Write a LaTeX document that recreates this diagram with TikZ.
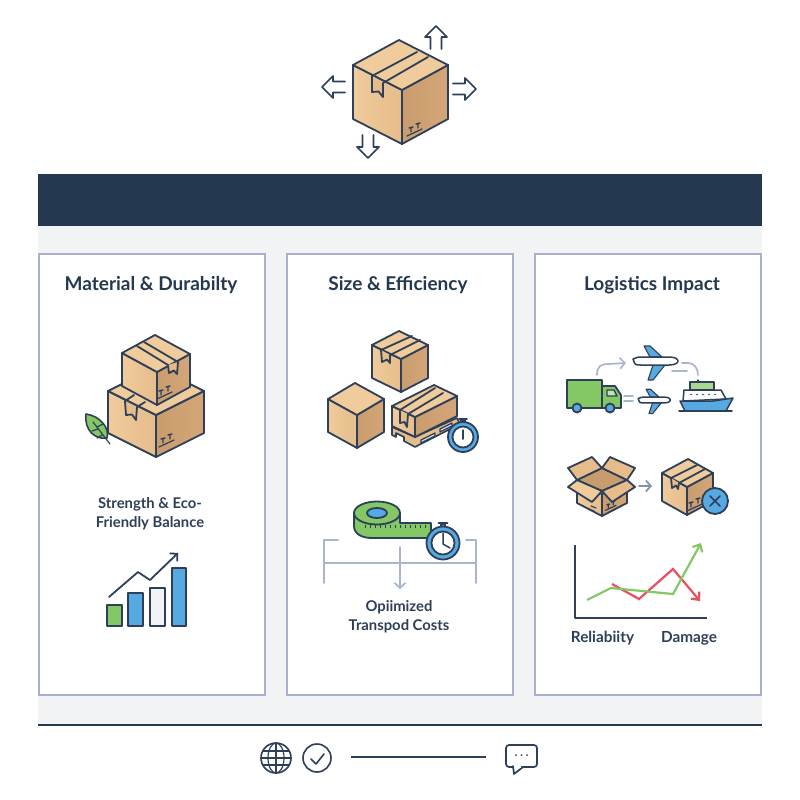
\documentclass[tikz,border=0pt]{standalone}
\usepackage{fontspec}
\setmainfont{Lato}
\usetikzlibrary{positioning,calc,arrows.meta}

\definecolor{navy}{HTML}{24384F}
\definecolor{inkblue}{HTML}{2E4059}
\definecolor{panelline}{HTML}{A9AFCF}
\definecolor{pagegray}{HTML}{F1F3F4}
\definecolor{boxlight}{HTML}{F0CB9C}
\definecolor{boxmid}{HTML}{E6BC8A}
\definecolor{boxdark}{HTML}{C99C6E}
\definecolor{boxside}{HTML}{D4A677}
\definecolor{leafgreen}{HTML}{84C765}
\definecolor{skyblue}{HTML}{57A9E2}
\definecolor{softblue}{HTML}{A9B5CC}
\definecolor{alertred}{HTML}{E8505B}

\tikzset{
    ink/.style={draw=inkblue,line width=1.8pt,line join=round,line cap=round},
    thinink/.style={draw=inkblue,line width=1.2pt,line join=round,line cap=round},
    panelbox/.style={draw=panelline,line width=1.6pt,fill=white},
    paneltitle/.style={text=navy,font=\fontsize{19}{23}\selectfont\bfseries},
    caption/.style={text=inkblue,font=\fontsize{14.8}{19}\selectfont\bfseries,align=center},
    chartlabel/.style={text=inkblue,font=\fontsize{15.3}{19}\selectfont\bfseries},
    softline/.style={draw=softblue,line width=1.7pt,line cap=round,line join=round},
    softarrow/.style={softline,-{Straight Barb[length=5pt,width=11pt]}},
    plot/.style={line width=2.2pt,line join=miter},
}

% box from its front, left and right top corners and its height
\newcommand{\isobox}[4]{
    \coordinate (F) at #1;
    \coordinate (L) at #2;
    \coordinate (R) at #3;
    \coordinate (B) at ($(L)+(R)-(F)$);
    \coordinate (h) at (0,#4);
    \draw[ink,left color=boxlight,right color=boxmid] (F) -- (L) -- ($(L)+(h)$) -- ($(F)+(h)$) -- cycle;
    \draw[ink,left color=boxdark,right color=boxside] (F) -- (R) -- ($(R)+(h)$) -- ($(F)+(h)$) -- cycle;
    \draw[ink,fill=boxlight] (F) -- (L) -- (B) -- (R) -- cycle;
}
% tape: two strips and the flap that hangs from them
\newcommand{\boxtape}[6]{
    \draw[ink] #1 -- #2;
    \draw[ink] #3 -- #4;
    \draw[ink,fill=boxmid] #1 -- #5 -- ($#5!0.5!#6+(1,-3)$) -- #6 -- #3;
}
\newcommand{\fragilemark}[2]{
    \begin{scope}[shift={(#1,#2)}]
        \draw[thinink] (-8,5) -- (7,-2);
        \draw[thinink,line width=1.4pt] (-4,-3) -- (-4,1) (-6,-3) -- (-2,-4);
        \draw[thinink,line width=1.4pt] (3,-7) -- (3,-3) (1,-7) -- (5,-8);
    \end{scope}
}
\newcommand{\stopwatch}[3]{
    \begin{scope}[shift={(#1,#2)},scale=#3]
        \draw[ink,fill=skyblue] (-2,-17) rectangle (2,-14);
        \draw[ink] (-4,-18) -- (4,-18);
        \draw[ink,fill=skyblue] (0,0) circle (15);
        \draw[ink,fill=white] (0,0) circle (10.5);
    \end{scope}
}
\newcommand{\blockarrow}[3]{
    \begin{scope}[shift={(#1,#2)},rotate=#3]
        \draw[ink,line width=1.7pt] (-12,-5.5) -- (0,-5.5) -- (0,-11) -- (11,0) -- (0,11) -- (0,5.5) -- (-12,5.5);
    \end{scope}
}
\newcommand{\planeicon}[3]{
    \begin{scope}[shift={(#1,#2)},scale=#3]
        \draw[ink,line width=1.1pt,fill=skyblue] (-11,-15) -- (-5,-15) -- (7,-4) -- (-5,-4) -- cycle;
        \draw[ink,line width=1.1pt,fill=skyblue] (-7,19) -- (-2,19) -- (10,4) -- (-2,4) -- cycle;
        \draw[ink,line width=1.5pt,fill=white] (-22,-2) .. controls (-18,-4) .. (-8,-4) -- (14,-4) .. controls (20,-4) and (23,-2) .. (23,0) .. controls (23,2) and (20,4) .. (14,4) -- (-14,4) .. controls (-20,4) .. (-22,-2) -- cycle;
    \end{scope}
}

\begin{document}
\begin{tikzpicture}[x=1pt,y=-1pt]
    \useasboundingbox (0,0) rectangle (800,800);
    \fill[white] (0,0) rectangle (800,800);

    % Page frame
    \fill[pagegray] (38,226) rectangle (762,725);
    \fill[navy] (38,174) rectangle (762,226);
    \draw[navy,line width=2pt] (38,725) -- (762,725);
    \draw[panelbox] (39,254) rectangle (265,695);
    \draw[panelbox] (287,254) rectangle (513,695);
    \draw[panelbox] (535,254) rectangle (761,695);
    \node[paneltitle] (materialtitle) at (151,285) {Material \& Durabilty};
    \node[paneltitle] (sizetitle) at (398,285) {Size \& Efficiency};
    \node[paneltitle] (logisticstitle) at (652,285) {Logistics Impact};

    % Top box
    \isobox{(402,90)}{(353,65)}{(448,65)}{54}
    \boxtape{(372,76)}{(417,52)}{(383,83)}{(428,57)}{(372,92)}{(383,97)}
    \fragilemark{415}{131}
    \blockarrow{436}{37}{90}
    \blockarrow{333}{87}{180}
    \blockarrow{465}{89}{0}
    \blockarrow{368}{147}{-90}

    % Material panel
    \draw[ink,line width=1.6pt,fill=leafgreen] (86,414) .. controls (100,416) and (110,428) .. (107,438) .. controls (95,440) and (84,430) .. (86,414) -- cycle;
    \draw[thinink] (93,422) -- (110,444) (97,427) -- (103,424) (98,429) -- (92,431) (102,435) -- (97,438);
    \isobox{(156,415)}{(108,391)}{(204,391)}{42}
    \isobox{(157,372)}{(122,353)}{(190,354)}{33}
    \boxtape{(168,365)}{(137,346)}{(178,362)}{(144,342)}{(169,373)}{(177,374)}
    \boxtape{(125,401)}{(134,395)}{(137,407)}{(145,402)}{(126,415)}{(136,420)}
    \fragilemark{165}{394}
    \fragilemark{167}{442}
    \node[caption] (strengthtext) at (150,513.5) {Strength \& Eco-\\Friendly Balance};

    \draw[ink,fill=leafgreen] (107,605) rectangle (122,626);
    \draw[ink,fill=skyblue] (128,593) rectangle (143,626);
    \draw[ink,fill=pagegray] (150,588) rectangle (165,626);
    \draw[ink,fill=skyblue] (172,568) rectangle (186,626);
    \coordinate (trendstart) at (109,597);
    \coordinate (trendend) at (178,553);
    \draw[ink,-{Straight Barb[length=5pt,width=11pt]}] (trendstart) -- (138,572) -- (150,580) -- (trendend);

    % Size panel
    \isobox{(401,359)}{(372,345)}{(428,345)}{33}
    \boxtape{(381,350)}{(412,336)}{(390,355)}{(420,340)}{(382,362)}{(390,363)}
    \isobox{(357,415)}{(328,399)}{(384,399)}{33}
    % pallet under the long box
    \draw[ink,line width=1.6pt,fill=boxmid] (392,427) -- (392,435) -- (396,437) -- (396,433) -- (404,437) -- (404,441) -- (415,447) -- (460,424) -- (457,418) -- (415,437) -- cycle;
    \draw[thinink,fill=softblue!50] (421,440) -- (435,433) -- (435,436) -- (421,443) -- cycle;
    \draw[thinink,fill=softblue!50] (440,429) -- (452,423) -- (452,426) -- (440,432) -- cycle;
    \isobox{(415,417)}{(392,406)}{(457,396)}{20}
    \boxtape{(400,410)}{(435,388)}{(408,414)}{(443,393)}{(400,423)}{(407,427)}
    \stopwatch{463}{437}{1}
    \draw[ink,line width=1.5pt] (463,430) -- (463,439);

    % Measuring tape
    \draw[softline] (338,540) -- (324,540) -- (324,583);
    \draw[softline] (466,540) -- (476,540) -- (476,583);
    \draw[softline] (324,563) -- (476,563);
    \coordinate (spanmid) at (400,547);
    \coordinate (spanend) at (400,589);
    \draw[softarrow] (spanmid) -- (spanend);
    \draw[ink,fill=leafgreen] (354,513) -- (354,526) .. controls (354,534) and (362,538) .. (372,538) -- (431,538) -- (431,523) -- (400,523) -- (400,513) -- cycle;
    \draw[ink,fill=leafgreen] (377,513) ellipse [x radius=23,y radius=11.5];
    \draw[ink,fill=skyblue] (377,513) ellipse [x radius=10,y radius=5];
    \foreach \tick in {365,370,...,425}
        \draw[inkblue,line width=0.9pt] (\tick,524.5) -- (\tick,528);
    \stopwatch{443}{543}{1.1}
    \draw[ink,line width=1.5pt] (443,533) -- (443,544) -- (450,548);
    \node[caption] (coststext) at (399,617) {Opiimized\\Transpod Costs};

    % Logistics panel
    \draw[ink,fill=leafgreen] (567,380) rectangle (602,408);
    \draw[ink,fill=leafgreen] (602,386) -- (615,386) -- (621,395) -- (621,408) -- (602,408) -- cycle;
    \draw[ink,line width=1.4pt,fill=leafgreen!50!white] (607,390) -- (614,390) -- (617,396) -- (607,396) -- cycle;
    \draw[ink,fill=skyblue] (577,408) circle (4.5);
    \draw[ink,fill=skyblue] (610,408) circle (4.5);
    \coordinate (truckout) at (597,375);
    \coordinate (planein) at (626,363);
    \draw[softarrow] (truckout) .. controls (597,366) and (601,364) .. (608,364) -- (planein);
    \planeicon{655}{361}{1}
    \coordinate (planeout) at (682,363);
    \coordinate (shipin) at (698,375);
    \draw[softline] (planeout) -- (688,363) .. controls (694,363) and (698,368) .. (shipin);
    \draw[softline] (672,371) -- (687,371);
    \draw[softline] (624,396) -- (633,396) (624,401) -- (633,401);
    \planeicon{654}{400}{0.72}

    \draw[ink,line width=1.5pt,fill=leafgreen!70!white] (690,382) rectangle (714,390);
    \draw[ink,line width=1.5pt] (698,382) -- (698,380);
    \draw[ink,line width=1.5pt,fill=white] (683,401) -- (684,390) -- (721,390) -- (726,399) -- cycle;
    \foreach \dot in {691,697,...,715}
        \fill[inkblue] (\dot,394.5) circle (0.9);
    \draw[ink,line width=1.5pt,fill=skyblue] (680,401) -- (713,401) -- (733,398) -- (726,411) -- (685,411) -- cycle;
    \draw[ink,line width=1.5pt] (679,411) -- (732,411);

    % Open box
    \draw[ink,fill=boxdark] (602,468) -- (577,480) -- (602,491) -- (627,480) -- cycle;
    \draw[ink,fill=boxmid] (602,468) -- (577,480) -- (568,468) -- (592,457) -- cycle;
    \draw[ink,fill=boxmid] (602,468) -- (627,480) -- (635,468) -- (610,457) -- cycle;
    \draw[ink,left color=boxlight,right color=boxmid] (577,483) -- (602,494) -- (602,516) -- (577,503) -- cycle;
    \draw[ink,left color=boxdark,right color=boxside] (627,483) -- (602,494) -- (602,516) -- (627,503) -- cycle;
    \draw[ink,fill=boxlight] (577,480) -- (602,491) -- (592,502) -- (568,487) -- cycle;
    \draw[ink,fill=boxmid] (627,480) -- (602,491) -- (612,502) -- (635,487) -- cycle;
    \begin{scope}[scale=0.7]
        \fragilemark{873}{724}
    \end{scope}
    \draw[thinink] (591,506) -- (596,508) (589,509) -- (594,511);
    \coordinate (openout) at (639,486);
    \coordinate (closedin) at (652,486);
    \draw[softarrow,draw=softblue!70!inkblue] (openout) -- (closedin);
    \isobox{(687,487)}{(662,473)}{(713,473)}{28}
    \boxtape{(671,478)}{(697,465)}{(679,483)}{(705,469)}{(672,488)}{(678,489)}
    \fragilemark{695}{506}
    \draw[ink,fill=skyblue] (715,501) circle (13);
    \draw[ink,line width=1.5pt] (710,496) -- (720,506) (720,496) -- (710,506);

    % Chart
    \coordinate (charttop) at (575,545);
    \coordinate (chartzero) at (575,618);
    \coordinate (chartright) at (707,618);
    \draw[ink,line cap=butt] (charttop) -- (chartzero) -- (chartright);
    \draw[alertred,plot,-{Straight Barb[length=6pt,width=11pt]}] (612,584) -- (639,599) -- (673,569) -- (700,601);
    \draw[leafgreen,plot,-{Straight Barb[length=6pt,width=11pt]}] (587,600) -- (611,588) -- (673,594) -- (701,543);
    \node[chartlabel] (reliabilitytext) at (602.5,638.5) {Reliabiity};
    \node[chartlabel] (damagetext) at (689,638.5) {Damage};

    % Footer
    \draw[ink,line width=1.6pt] (276,758) circle (15);
    \draw[thinink] (276,758) ellipse [x radius=8,y radius=15];
    \draw[thinink] (276,743) -- (276,773) (261,758) -- (291,758) (263,751) -- (289,751) (263,765) -- (289,765);
    \draw[ink,line width=1.6pt] (317,758) circle (14);
    \draw[ink,line width=1.6pt] (311,759) -- (316,764) -- (324,754);
    \coordinate (footstart) at (351,757);
    \coordinate (footend) at (486,757);
    \draw[ink,line cap=butt] (footstart) -- (footend);
    \draw[ink,line width=1.7pt,rounded corners=3pt] (506,745) rectangle (537,767);
    \draw[ink,line width=1.7pt,fill=white] (513,766) -- (514,774) -- (523,767);
    \draw[white,line width=2pt] (515,767) -- (521,767);
    \foreach \dot in {516,521.5,527}
        \fill[inkblue] (\dot,755) circle (1);
\end{tikzpicture}
\end{document}
